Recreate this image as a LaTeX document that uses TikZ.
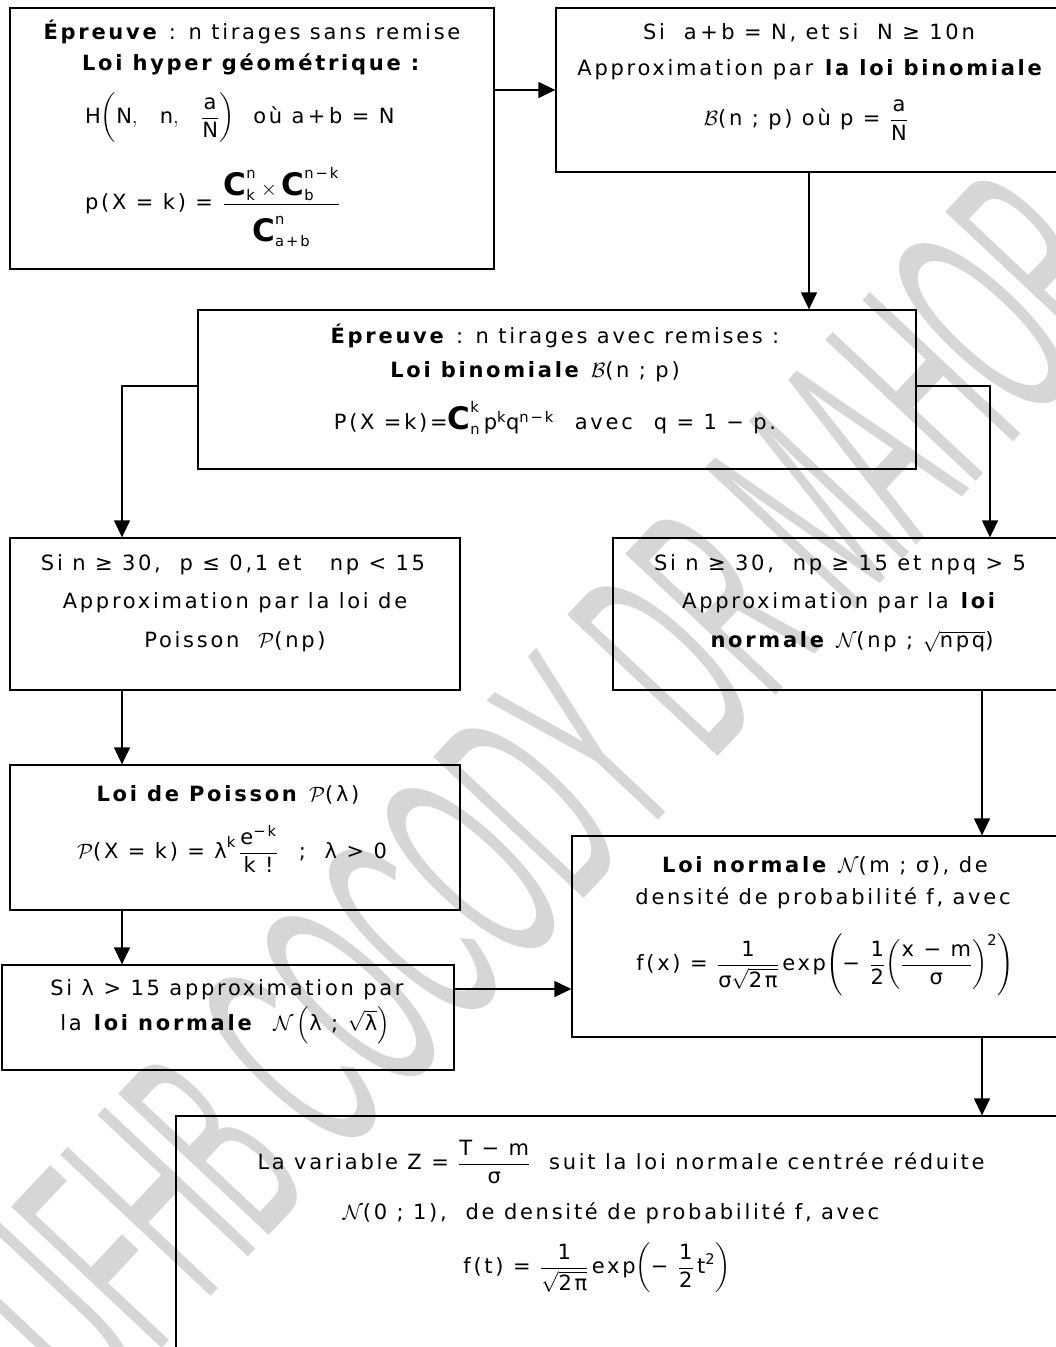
\documentclass[tikz,border=0pt]{standalone}
\usepackage{fontspec}
\setmainfont{DejaVu Sans}[LetterSpace=13]
\newfontfamily\wmfont{Liberation Sans}
\usepackage{amsmath}
\usepackage{graphicx}
\usetikzlibrary{arrows.meta}
\newcommand\T[1]{\text{#1}}
\newcommand\BC{\text{\fontsize{31}{31}\selectfont\bfseries C}}
\begin{document}
\begin{tikzpicture}[x=1pt, y=-1pt,
  font=\fontsize{21}{25}\selectfont,
  box/.style={draw, line width=1.3pt, inner sep=0pt},
  txt/.style={inner sep=0pt, anchor=center},
  arr/.style={-{Triangle[length=17pt,width=16pt]}, line width=1.3pt}]
\useasboundingbox (0,0) rectangle (1056,1347);
\clip (0,0) rectangle (1056,1347);
% watermark
\node[rotate=46.8, text=black!16, inner sep=0pt] (wm) at (545,790)
  {\scalebox{0.39}[1]{\wmfont\fontsize{300}{300}\selectfont UFHB COCODY DR MAHOP}};
% boxes
\node[box, minimum width=484pt, minimum height=261pt] (b1) at (252,138.5) {};
\node[box, minimum width=506pt, minimum height=164pt] (b2) at (809,90) {};
\node[box, minimum width=718pt, minimum height=159pt] (b3) at (557,389.5) {};
\node[box, minimum width=450pt, minimum height=152pt] (b4) at (235,614) {};
\node[box, minimum width=457pt, minimum height=152pt] (b5) at (841.5,614) {};
\node[box, minimum width=450pt, minimum height=145pt] (b6) at (235,837.5) {};
\node[box, minimum width=452pt, minimum height=105pt] (b7) at (228,1017.5) {};
\node[box, minimum width=498pt, minimum height=201pt] (b8) at (821,936.5) {};
\node[box, minimum width=894pt, minimum height=244pt] (b9) at (623,1238) {};
% box 1
\node[txt] (t11) at (252,32) {\textbf{Épreuve} : n tirages sans remise};
\node[txt] (t12) at (252,64) {\textbf{Loi hyper géométrique :}};
\node[txt, anchor=west] (t13) at (85,118) {$\T{H}\biggl(\T{N},\ \ \T{n},\ \ \dfrac{\T{a}}{\T{N}}\biggr)$\ \ où a\,+\,b = N};
\node[txt, anchor=west] (t14) at (85,207) {$\T{p(X = k) = }\dfrac{\BC_{\T{k}}^{\T{n}}\times\BC_{\T{b}}^{\T{n−k}}}{\rule{0pt}{34pt}\BC_{\T{a+b}}^{\T{n}}}$};
% box 2
\node[txt] (t21) at (809,33) {Si\ \ a\,+\,b = N, et si\ \ N ≥ 10n};
\node[txt] (t22) at (811,70) {Approximation par \textbf{la loi binomiale}};
\node[txt] (t23) at (806,120) {$\mathcal{B}$(n ; p) où p = $\dfrac{\T{a}}{\T{N}}$};
% box 3
\node[txt] (t31) at (555,336) {\textbf{Épreuve} : n tirages avec remises :};
\node[txt] (t32) at (535,372) {\textbf{Loi binomiale} $\mathcal{B}$(n ; p)};
\node[txt] (t33) at (555,418) {$\T{P(X =k)=}\BC_{\T{n}}^{\T{k}}\,\T{p}^{\T{k}}\T{q}^{\T{n−k}}$\quad avec\quad q = 1 − p.};
% box 4
\node[txt] (t41) at (233,565) {Si n ≥ 30,\ \ p ≤ 0,1 et\ \ \ np < 15};
\node[txt] (t42) at (235,603) {Approximation par la loi de};
\node[txt] (t43) at (235,642) {Poisson\ \ $\mathcal{P}$(np)};
% box 5
\node[txt] (t51) at (840,565) {Si n ≥ 30,\ \ np ≥ 15 et npq > 5};
\node[txt] (t52) at (840,603) {Approximation par la \textbf{loi}};
\node[txt] (t53) at (852,642) {\textbf{normale} $\mathcal{N}$(np ; $\sqrt{\T{npq}}$)};
% box 6
\node[txt] (t61) at (228,795) {\textbf{Loi de Poisson} $\mathcal{P}$(λ)};
\node[txt] (t62) at (232,849) {$\mathcal{P}\T{(X = k) = λ}^{\T{k}}\,\dfrac{\T{e}^{\T{−k}}}{\T{k !}}$\quad ;\ \ λ > 0};
% box 7
\node[txt] (t71) at (227,990) {Si λ > 15 approximation par};
\node[txt] (t72) at (225,1025) {la \textbf{loi normale}\ \ $\mathcal{N}\left(\T{λ ; }\sqrt{\T{λ}}\right)$};
% box 8
\node[txt] (t81) at (825,866) {\textbf{Loi normale} $\mathcal{N}$(m ; σ), de};
\node[txt] (t82) at (823,898) {densité de probabilité f, avec};
\node[txt] (t83) at (825,965) {$\T{f(x) = }\dfrac{\T{1}}{\T{σ}\sqrt{\T{2π}}}\,\T{exp}\Biggl(\T{− }\dfrac{\T{1}}{\T{2}}\biggl(\dfrac{\T{x − m}}{\T{σ}}\biggr)^{\T{2}}\Biggr)$};
% box 9
\node[txt] (t91) at (621,1162) {La variable Z = $\dfrac{\T{T − m}}{\T{σ}}$\ \ suit la loi normale centrée réduite};
\node[txt] (t92) at (611,1213) {$\mathcal{N}$(0 ; 1),\ \ de densité de probabilité f, avec};
\node[txt] (t93) at (597,1268) {$\T{f(t) = }\dfrac{\T{1}}{\sqrt{\T{2π}}}\,\T{exp}\biggl(\T{− }\dfrac{\T{1}}{\T{2}}\,\T{t}^{\T{2}}\biggr)$};
% junction coordinates
\coordinate (j1) at (122,386);
\coordinate (j2) at (990,386);
\coordinate (j3) at (982,0);
\coordinate (j4) at (0,989);
% connectors
\draw[arr] (b1.east |- b2.west) -- (b2.west);
\draw[arr] (b2.south) -- (b2.south |- b3.north);
\draw[arr] (b3.west |- j1) -- (j1) -- (j1 |- b4.north);
\draw[arr] (b3.east |- j2) -- (j2) -- (j2 |- b5.north);
\draw[arr] (j1 |- b4.south) -- (j1 |- b6.north);
\draw[arr] (j1 |- b6.south) -- (j1 |- b7.north);
\draw[arr] (b7.east |- j4) -- (b8.west |- j4);
\draw[arr] (j3 |- b5.south) -- (j3 |- b8.north);
\draw[arr] (j3 |- b8.south) -- (j3 |- b9.north);
\end{tikzpicture}
\end{document}
